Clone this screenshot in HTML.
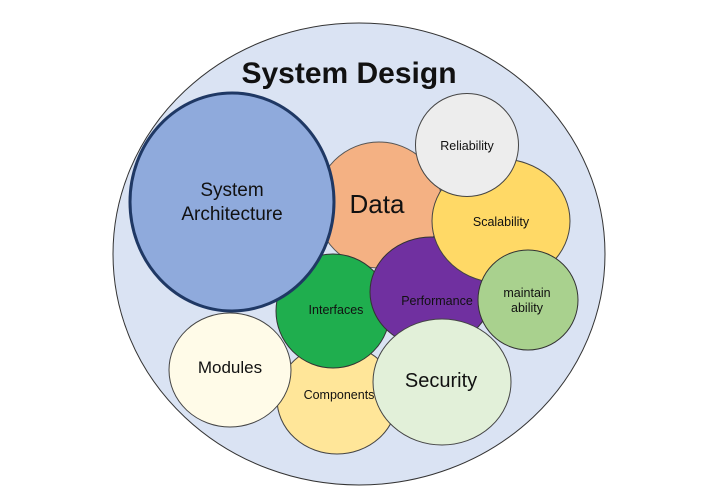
<!DOCTYPE html>
<html><head><meta charset="utf-8"><style>
html,body{margin:0;padding:0;background:#fff;width:704px;height:503px;overflow:hidden}
svg{display:block}
text{font-family:"Liberation Sans",sans-serif;text-anchor:middle;fill:#111}
</style></head><body>
<svg width="704" height="503" viewBox="0 0 704 503">
<ellipse cx="359" cy="254" rx="246" ry="231" fill="#dae3f3" stroke="#333" stroke-width="1"/>
<text x="349" y="83" font-size="30" font-weight="bold" letter-spacing="0">System Design</text>
<circle cx="379" cy="205" r="63" fill="#f4b183" stroke="#555" stroke-width="1"/>
<ellipse cx="337" cy="399" rx="60" ry="55" fill="#ffe699" stroke="#444" stroke-width="1"/>
<circle cx="333" cy="311" r="57" fill="#1fae4e" stroke="#333" stroke-width="1"/>
<ellipse cx="431" cy="292" rx="61" ry="55" fill="#7030a0" stroke="#333" stroke-width="1"/>
<ellipse cx="501" cy="221" rx="69" ry="62" fill="#ffd966" stroke="#444" stroke-width="1"/>
<circle cx="467" cy="145" r="51.5" fill="#ededed" stroke="#444" stroke-width="1"/>
<circle cx="528" cy="300" r="50" fill="#a9d18e" stroke="#333" stroke-width="1"/>
<ellipse cx="230" cy="370" rx="61" ry="57" fill="#fffbe8" stroke="#444" stroke-width="1"/>
<ellipse cx="442" cy="382" rx="69" ry="63" fill="#e2f0d9" stroke="#444" stroke-width="1"/>
<ellipse cx="232" cy="202" rx="102" ry="109" fill="#8faadc" stroke="#1f3864" stroke-width="3"/>
<text x="232" y="196" font-size="19">System</text>
<text x="232" y="220" font-size="19">Architecture</text>
<text x="377" y="213" font-size="26">Data</text>
<text x="467" y="150" font-size="12.5">Reliability</text>
<text x="501" y="226" font-size="12.5">Scalability</text>
<text x="336" y="314" font-size="12.5">Interfaces</text>
<text x="437" y="305" font-size="12.5">Performance</text>
<text x="527" y="297" font-size="12.5">maintain</text>
<text x="527" y="312" font-size="12.5">ability</text>
<text x="230" y="373" font-size="17">Modules</text>
<text x="339" y="399" font-size="12.5">Components</text>
<text x="441" y="387" font-size="20">Security</text>
</svg>
</body></html>
